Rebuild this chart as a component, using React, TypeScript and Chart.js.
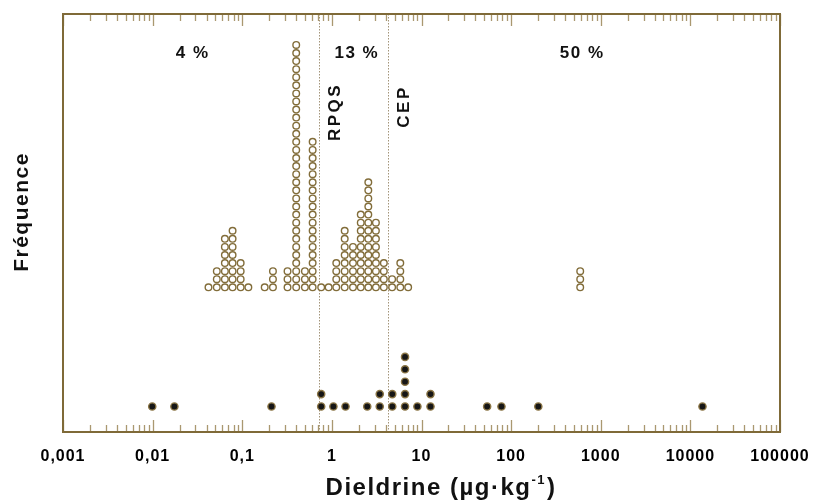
import React, { useEffect, useRef } from 'react';
import { Chart, registerables } from 'chart.js';

Chart.register(...registerables);

// Upper dot plot (open circles): bin value (µg/kg) and number of stacked samples
const upperValues = [0.042, 0.052, 0.064, 0.078, 0.096, 0.117, 0.178, 0.22, 0.32, 0.40, 0.50, 0.61, 0.76, 0.92, 1.12, 1.39, 1.72, 2.1, 2.55, 3.1, 3.8, 4.7, 5.8, 7.1, 590];
const upperCounts = [1, 3, 7, 8, 4, 1, 1, 3, 3, 31, 3, 19, 1, 1, 4, 8, 6, 10, 14, 9, 4, 2, 4, 1, 3];

// Lower dot plot (filled circles)
const lowerValues = [0.0099, 0.0175, 0.212, 0.76, 1.04, 1.42, 2.48, 3.42, 4.72, 6.55, 9.0, 12.6, 54, 78, 201, 13650];
const lowerCounts = [1, 1, 1, 2, 1, 1, 1, 2, 2, 5, 1, 2, 1, 1, 1, 1];

// Axis ticks
const decadeTicks = [0.001, 0.01, 0.1, 1, 10, 100, 1000, 10000, 100000];
const tickLabels = ['0,001', '0,01', '0,1', '1', '10', '100', '1000', '10000', '100000'];

// Reference thresholds
const thresholdValues = [0.71, 4.2];
const thresholdLabels = ['RPQS', 'CEP'];

// Share annotations
const shareLabels = ['4 %', '13 %', '50 %'];
const shareValues = [0.028, 1.9, 620];

// Layout constants (y scale units)
const Y_MAX = 418;
const UPPER_BASE = 144.7;
const UPPER_STEP = 8.08;
const LOWER_BASE = 25.5;
const LOWER_STEP = 12.4;
const SHARE_Y = 379;
const THRESH_LABEL_Y = [320, 325.5];

const FONT = "'Liberation Sans', Arial, sans-serif";

function stack(values: number[], counts: number[], base: number, step: number) {
  const pts: { x: number; y: number }[] = [];
  values.forEach((v, i) => {
    for (let k = 0; k < counts[i]; k++) pts.push({ x: v, y: base + k * step });
  });
  return pts;
}

const framePlugin = {
  id: 'frame',
  beforeDraw(chart: any) {
    chart.ctx.letterSpacing = '1px';
  },
  beforeDatasetsDraw(chart: any) {
    const { ctx, chartArea: a } = chart;
    const x = chart.scales.x;
    ctx.save();
    ctx.letterSpacing = '0px';
    ctx.strokeStyle = '#a39479';
    ctx.lineWidth = 1;
    ctx.setLineDash([1.5, 1.5]);
    thresholdValues.forEach((v) => {
      const px = Math.round(x.getPixelForValue(v)) + 0.5;
      ctx.beginPath();
      ctx.moveTo(px, a.top);
      ctx.lineTo(px, a.bottom);
      ctx.stroke();
    });
    ctx.restore();
  },
  afterDatasetsDraw(chart: any) {
    const { ctx, chartArea: a } = chart;
    const x = chart.scales.x;
    const y = chart.scales.y;
    ctx.save();
    ctx.letterSpacing = '0px';
    // inward ticks top & bottom
    ctx.strokeStyle = '#aa9870';
    ctx.lineWidth = 1.3;
    for (let e = -3; e <= 5; e++) {
      for (let m = 1; m <= 9; m++) {
        const v = m * Math.pow(10, e);
        if (v > 100000 * 1.0001) continue;
        const px = Math.round(x.getPixelForValue(v)) + 0.5;
        const len = m === 1 ? 12 : 7;
        ctx.beginPath();
        ctx.moveTo(px, a.bottom);
        ctx.lineTo(px, a.bottom - len);
        ctx.moveTo(px, a.top);
        ctx.lineTo(px, a.top + len);
        ctx.stroke();
      }
    }
    // frame
    ctx.strokeStyle = '#7f6a38';
    ctx.lineWidth = 2;
    ctx.strokeRect(a.left, a.top, a.right - a.left, a.bottom - a.top);

    ctx.fillStyle = '#111111';
    // share labels
    ctx.font = `bold 17px ${FONT}`;
    ctx.letterSpacing = '1.5px';
    ctx.textAlign = 'center';
    ctx.textBaseline = 'middle';
    shareLabels.forEach((t, i) => {
      ctx.fillText(t, x.getPixelForValue(shareValues[i]), y.getPixelForValue(SHARE_Y));
    });
    // threshold labels rotated
    ctx.letterSpacing = '2.5px';
    thresholdLabels.forEach((t, i) => {
      const px = x.getPixelForValue(thresholdValues[i]) + 16.5;
      const py = y.getPixelForValue(THRESH_LABEL_Y[i]);
      ctx.save();
      ctx.translate(px, py);
      ctx.rotate(-Math.PI / 2);
      ctx.fillText(t, 0, 0);
      ctx.restore();
    });
    // y title
    ctx.font = `bold 21px ${FONT}`;
    ctx.letterSpacing = '1.5px';
    ctx.save();
    ctx.translate(22.5, 212);
    ctx.rotate(-Math.PI / 2);
    ctx.fillText('Fréquence', 0, 0);
    ctx.restore();
    // x title with superscript
    const main = 'Dieldrine (µg·kg';
    const sup = '-1';
    const close = ')';
    ctx.textAlign = 'left';
    ctx.textBaseline = 'alphabetic';
    ctx.font = `bold 24px ${FONT}`;
    const w1 = ctx.measureText(main).width;
    const w3 = ctx.measureText(close).width;
    ctx.font = `bold 13px ${FONT}`;
    const w2 = ctx.measureText(sup).width;
    const cx = (a.left + a.right) / 2 + 19;
    let sx = cx - (w1 + w2 + w3) / 2;
    const base = 495;
    ctx.font = `bold 24px ${FONT}`;
    ctx.fillText(main, sx, base);
    sx += w1;
    ctx.font = `bold 13px ${FONT}`;
    ctx.fillText(sup, sx, base - 11);
    sx += w2 + 1;
    ctx.font = `bold 24px ${FONT}`;
    ctx.fillText(close, sx, base);
    ctx.restore();
  },
  afterDraw(chart: any) {
    chart.ctx.letterSpacing = '0px';
  },
};

export default function App() {
  const ref = useRef<HTMLCanvasElement | null>(null);
  useEffect(() => {
    if (!ref.current) return;
    const chart = new Chart(ref.current, {
      type: 'scatter',
      data: {
        datasets: [
          {
            data: stack(upperValues, upperCounts, UPPER_BASE, UPPER_STEP),
            pointRadius: 3.3,
            pointHoverRadius: 3.3,
            pointBorderWidth: 1.4,
            pointBackgroundColor: '#ffffff',
            pointBorderColor: '#826d3a',
          },
          {
            data: stack(lowerValues, lowerCounts, LOWER_BASE, LOWER_STEP),
            pointRadius: 3.6,
            pointHoverRadius: 3.6,
            pointBorderWidth: 1.4,
            pointBackgroundColor: '#161616',
            pointBorderColor: '#8a7444',
          },
        ],
      },
      options: {
        responsive: false,
        animation: false,
        events: [],
        layout: { padding: { left: 63, right: 35, top: 14, bottom: 0 } },
        plugins: { legend: { display: false }, tooltip: { enabled: false } },
        scales: {
          x: {
            type: 'logarithmic',
            min: 0.001,
            max: 100000,
            grid: { display: false, drawTicks: false },
            border: { display: false },
            afterBuildTicks: (s: any) => {
              s.ticks = decadeTicks.map((v) => ({ value: v }));
            },
            afterFit: (s: any) => {
              s.height = 68;
              s.paddingLeft = 0;
              s.paddingRight = 0;
            },
            ticks: {
              autoSkip: false,
              maxRotation: 0,
              minRotation: 0,
              padding: 15,
              color: '#000000',
              font: { family: FONT, weight: 'bold', size: 16 },
              callback: (_v: any, i: number) => tickLabels[i],
            },
          },
          y: { type: 'linear', min: 0, max: Y_MAX, display: false },
        },
      },
      plugins: [framePlugin],
    } as any);
    return () => chart.destroy();
  }, []);
  return (
    <div style={{ position: 'fixed', left: 0, top: 0, width: 815, height: 500, background: '#fff' }}>
      <canvas ref={ref} width={815} height={500} style={{ display: 'block' }} />
    </div>
  );
}
